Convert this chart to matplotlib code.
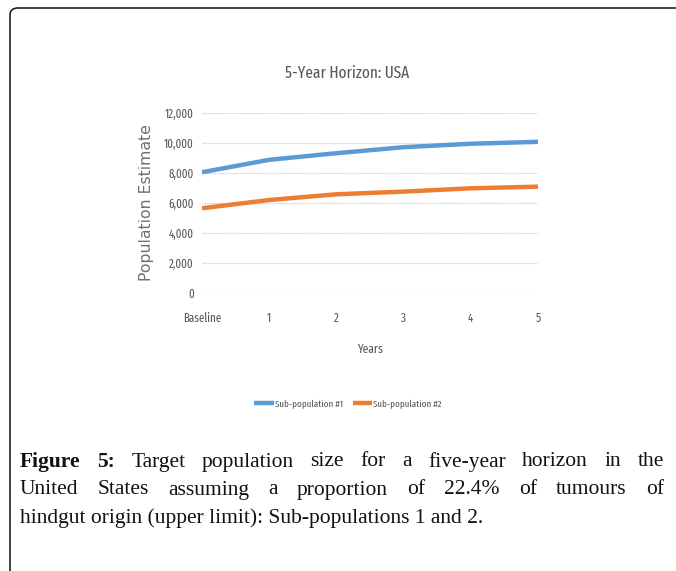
import matplotlib
matplotlib.use("Agg")
import matplotlib.pyplot as plt
import matplotlib.font_manager as fm
from matplotlib.patches import FancyBboxPatch
from matplotlib.ticker import FuncFormatter

# data
years = ["Baseline", "1", "2", "3", "4", "5"]
sub_pop_1 = [8050, 8880, 9320, 9720, 9950, 10080]
sub_pop_2 = [5650, 6200, 6580, 6760, 6980, 7090]
series_names = ["Sub-population #1", "Sub-population #2"]

caption_lines = [
    [("Figure", "bold"), ("5:", "bold"), ("Target", "normal"), ("population", "normal"),
     ("size", "normal"), ("for", "normal"), ("a", "normal"), ("five-year", "normal"),
     ("horizon", "normal"), ("in", "normal"), ("the", "normal")],
    [("United", "normal"), ("States", "normal"), ("assuming", "normal"), ("a", "normal"),
     ("proportion", "normal"), ("of", "normal"), ("22.4%", "normal"), ("of", "normal"),
     ("tumours", "normal"), ("of", "normal")],
    [("hindgut origin (upper limit): Sub-populations 1 and 2.", "normal")],
]

W, H = 676, 571
grey = "#595959"


# the chart was made with a very narrow face, take the narrowest sans we have
def narrow_font():
    rank = {"extra-condensed": 3, "condensed": 2, "semi-condensed": 1}
    best, best_score = None, 0
    for f in fm.fontManager.ttflist:
        if f.style != "normal" or f.weight not in (400, "normal", "regular"):
            continue
        name = (f.name + " " + f.fname).lower().replace(" ", "")
        if "mono" in name or "ultra" in name or ("serif" in name and "sans" not in name):
            continue
        score = rank.get(f.stretch, 0)
        if "extracondensed" in name:
            score = max(score, 3)
        elif "semicondensed" in name:
            score = max(score, 1)
        elif "condensed" in name or "narrow" in name:
            score = max(score, 2)
        if score > best_score:
            best, best_score = f.fname, score
    return best


nf = narrow_font()


def cfont(size):
    if nf:
        return fm.FontProperties(fname=nf, size=size)
    return fm.FontProperties(family="Liberation Sans", size=size)


fig = plt.figure(figsize=(W / 100, H / 100), dpi=100)
r = fig.canvas.get_renderer()


def fit(text, target_px, max_size):
    # font size that gives the text about the width it has in the picture
    w = r.get_text_width_height_descent(text, cfont(10), ismath=False)[0]
    return min(max_size, 10 * target_px / w)


title_size = fit("5-Year Horizon: USA", 124, 14)
tick_size = fit("12,000", 29, 9)
xlabel_size = fit("Years", 26, 11)
legend_size = fit(series_names[0], 68, 10)

# rounded frame of the figure box (runs off the right and bottom edge)
frame = FancyBboxPatch((10 / W, -0.2), 1.2, 1 - 8 / H + 0.2,
                       boxstyle="round,pad=0,rounding_size=0.012",
                       transform=fig.transFigure, fill=False,
                       edgecolor="#222222", linewidth=1.2)
fig.patches.append(frame)

ax = fig.add_axes([202 / W, 1 - 293 / H, 336 / W, 180 / H])
x = range(len(years))
ax.plot(x, sub_pop_1, color="#5B9BD5", lw=3.2, label=series_names[0], solid_capstyle="butt")
ax.plot(x, sub_pop_2, color="#ED7D31", lw=3.2, label=series_names[1], solid_capstyle="butt")

ax.set_xlim(0, 5)
ax.set_ylim(0, 12000)
ax.set_yticks(range(0, 12001, 2000))
ax.yaxis.set_major_formatter(FuncFormatter(lambda v, p: f"{int(v):,}"))
ax.set_xticks(list(x))
ax.set_xticklabels(years)
ax.grid(axis="y", color="#c8c8c8", linestyle=(0, (1, 1)), linewidth=0.9)
ax.set_axisbelow(True)
for s in ax.spines.values():
    s.set_visible(False)
ax.tick_params(length=0, colors=grey)
ax.tick_params(axis="x", pad=14)
ax.tick_params(axis="y", pad=6)
for lab in ax.get_xticklabels() + ax.get_yticklabels():
    lab.set_fontproperties(cfont(tick_size))

ax.set_xlabel("Years", fontproperties=cfont(xlabel_size), color=grey, labelpad=13)
ax.set_ylabel("Population Estimate", family="DejaVu Sans", fontsize=11.3, color="#707070", labelpad=7)
fig.text(347 / W, 1 - 73 / H, "5-Year Horizon: USA", ha="center", va="center",
         fontproperties=cfont(title_size), color=grey)

fig.legend(loc="center", bbox_to_anchor=(348 / W, 1 - 404 / H), ncol=2, frameon=False,
           prop=cfont(legend_size), labelcolor=grey,
           handlelength=2.0, columnspacing=1.0, handletextpad=0.1)

# justified caption
left, right = 20, 664
y0, dy = 462, 28
cap_font = "Liberation Serif"
for i, words in enumerate(caption_lines):
    y = 1 - (y0 + i * dy) / H
    texts = [fig.text(0, y, w, fontsize=15.5, family=cap_font, weight=wt,
                      va="center", ha="left", color="#111111") for w, wt in words]
    widths = [t.get_window_extent(r).width for t in texts]
    if len(texts) > 1:
        gap = (right - left - sum(widths)) / (len(texts) - 1)
    else:
        gap = 0
    xpos = left
    for t, w in zip(texts, widths):
        t.set_x(xpos / W)
        xpos += w + gap

fig.savefig("out.png", dpi=100)
